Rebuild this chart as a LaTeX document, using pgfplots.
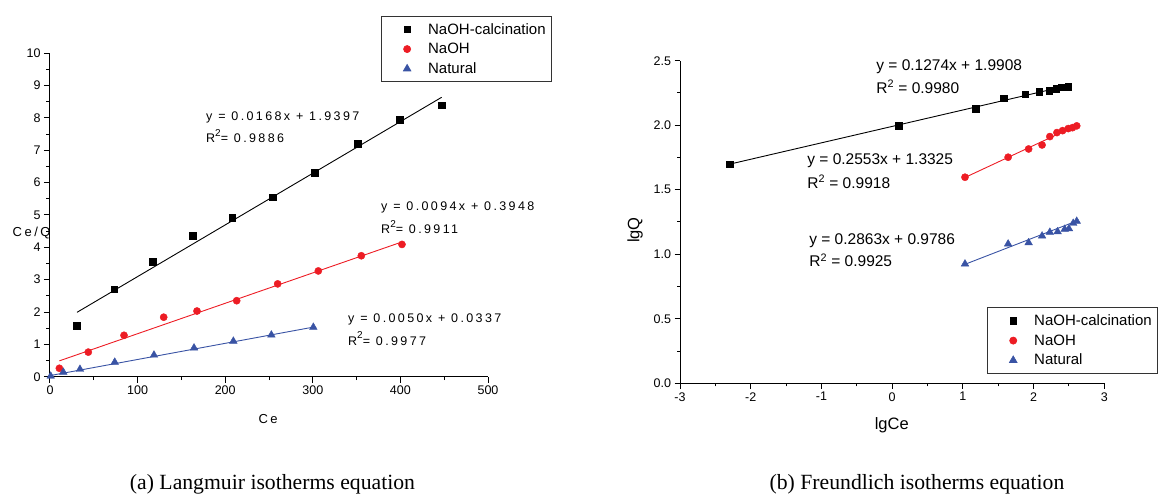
\documentclass[border=0pt]{standalone}
\usepackage{fontspec}
\setmainfont{Liberation Serif}
\setsansfont{Liberation Sans}
\newfontfamily\arial{Liberation Sans}
\newfontfamily\arialsp[LetterSpace=19]{Liberation Sans}
\usepackage{pgfplots}
\pgfplotsset{compat=1.18}
\definecolor{myred}{RGB}{237,28,36}
\definecolor{myblue}{RGB}{57,83,164}
\newcommand{\fs}[1]{\fontsize{#1}{#1}\selectfont}
\pgfplotsset{
  common/.style={
    scale only axis, clip=false,
    axis x line*=bottom, axis y line*=left,
    tick align=outside,
    axis line style={line width=1pt},
    tick style={line width=1pt, black},
    minor tick style={line width=1pt, black},
    major tick length=6pt, minor tick length=3.5pt,
    /pgf/number format/assume math mode=true,
    legend cell align=left,
    legend style={draw=black!80, line width=0.9pt, fill=white, inner xsep=6pt, inner ysep=7pt,
      font=\arial\fs{15}, row sep=7.5pt, column sep=7pt, nodes={inner sep=0pt}, anchor=north west},
    legend image code/.code={\path[draw=none,fill=none] (0pt,0pt) -- (34pt,0pt); \draw[##1, line width=0.6pt] plot coordinates {(20pt,0pt)};},
  },
  sq/.style={only marks, mark=square*, mark size=3.3pt, black},
  ci/.style={only marks, mark=*, mark size=3.6pt, myred},
  tr/.style={only marks, mark=triangle*, mark size=4.4pt, myblue},
}
\begin{document}
\begin{tikzpicture}
\useasboundingbox (0pt,0pt) rectangle (1162pt,493pt);
% ---------- (a) Langmuir ----------
\begin{axis}[common,
  at={(50pt,116.3pt)}, anchor=south west,
  width=438pt, height=323.4pt,
  xmin=0, xmax=500, ymin=0, ymax=10,
  xtick={0,100,...,500}, ytick={0,1,...,10},
  minor x tick num=1, minor y tick num=1,
  tick label style={font=\arial\fs{12.5}},
  xlabel={Ce}, ylabel={Ce/Q},
  xlabel style={font=\arialsp\fs{13}, at={(rel axis cs:0.498,-0.131)}, anchor=center},
  ylabel style={font=\arialsp\fs{13}, at={(rel axis cs:-0.042,0.444)}, anchor=center, rotate=-90},
  legend style={at={(rel axis cs:0.755,1.116)}},
]
\addplot[sq] coordinates {(30.8,1.58) (73.4,2.70) (117.2,3.56) (162.9,4.36) (208.1,4.92) (254.2,5.55) (302.1,6.31) (351.2,7.20) (399.5,7.94) (447.1,8.39)};
\addlegendentry{NaOH-calcination}
\addplot[ci] coordinates {(10.7,0.26) (43.7,0.76) (84.5,1.28) (129.8,1.84) (167.8,2.03) (213.1,2.35) (259.9,2.87) (306.3,3.27) (355.4,3.74) (401.8,4.09)};
\addlegendentry{NaOH}
\addplot[tr] coordinates {(0.8,0.02) (15.2,0.14) (34.2,0.23) (73.9,0.45) (118.7,0.67) (164.4,0.89) (209.3,1.10) (252.7,1.29) (300.6,1.53)};
\addlegendentry{Natural}
\addplot[black, line width=0.9pt, forget plot] coordinates {(30.8,1.99) (447.1,8.64)};
\addplot[myred, line width=0.9pt, forget plot] coordinates {(10.7,0.49) (400,4.15)};
\addplot[myblue, line width=0.9pt, forget plot] coordinates {(0,0.034) (300,1.53)};
\node[anchor=base west, font=\arialsp\fs{12.5}, inner sep=0pt] at (axis cs:178.1,7.92) {y = 0.0168x + 1.9397};
\node[anchor=base west, font=\arialsp\fs{12.5}, inner sep=0pt] at (axis cs:178.1,7.23) {R\raisebox{0.5em}{\fs{10}2}= 0.9886};
\node[anchor=base west, font=\arialsp\fs{12.5}, inner sep=0pt] at (axis cs:377.9,5.15) {y = 0.0094x + 0.3948};
\node[anchor=base west, font=\arialsp\fs{12.5}, inner sep=0pt] at (axis cs:377.9,4.43) {R\raisebox{0.5em}{\fs{10}2}= 0.9911};
\node[anchor=base west, font=\arialsp\fs{12.5}, inner sep=0pt] at (axis cs:340.2,1.67) {y = 0.0050x + 0.0337};
\node[anchor=base west, font=\arialsp\fs{12.5}, inner sep=0pt] at (axis cs:340.2,0.98) {R\raisebox{0.5em}{\fs{10}2}= 0.9977};
\end{axis}
% ---------- (b) Freundlich ----------
\begin{axis}[common,
  at={(680pt,109.7pt)}, anchor=south west,
  width=424.3pt, height=322.6pt,
  xmin=-3, xmax=3, ymin=0, ymax=2.5,
  xtick={-3,-2,...,3}, ytick={0,0.5,...,2.5},
  minor x tick num=1, minor y tick num=1,
  major tick length=5.5pt, minor tick length=3pt,
  tick label style={font=\arial\fs{12.5}},
  yticklabel style={/pgf/number format/.cd, fixed, fixed zerofill, precision=1},
  xlabel={lgCe}, ylabel={lgQ},
  xlabel style={font=\arial\fs{16.5}, at={(rel axis cs:0.499,-0.129)}, anchor=center},
  ylabel style={font=\arial\fs{16.5}, at={(rel axis cs:-0.106,0.475)}, anchor=center},
  legend style={at={(rel axis cs:0.723,0.2356)}},
]
\addplot[sq] coordinates {(-2.30,1.698) (0.095,1.995) (1.18,2.129) (1.58,2.209) (1.88,2.240) (2.08,2.258) (2.22,2.268) (2.32,2.281) (2.40,2.295) (2.49,2.297)};
\addlegendentry{NaOH-calcination}
\addplot[ci] coordinates {(1.03,1.597) (1.64,1.752) (1.93,1.816) (2.12,1.847) (2.23,1.912) (2.33,1.943) (2.41,1.958) (2.49,1.974) (2.55,1.981) (2.61,1.995)};
\addlegendentry{NaOH}
\addplot[tr] coordinates {(1.03,0.925) (1.64,1.080) (1.93,1.090) (2.12,1.142) (2.23,1.171) (2.34,1.175) (2.44,1.194) (2.50,1.198) (2.56,1.240) (2.61,1.256)};
\addlegendentry{Natural}
\addplot[black, line width=0.9pt, forget plot] coordinates {(-2.30,1.698) (2.50,2.309)};
\addplot[myred, line width=0.9pt, forget plot] coordinates {(1.03,1.595) (2.61,1.999)};
\addplot[myblue, line width=0.9pt, forget plot] coordinates {(1.02,0.92) (2.62,1.26)};
\node[anchor=base west, font=\arial\fs{15.5}, inner sep=0pt] at (axis cs:-0.226,2.423) {y = 0.1274x + 1.9908};
\node[anchor=base west, font=\arial\fs{15.5}, inner sep=0pt] at (axis cs:-0.226,2.248) {R\textsuperscript{2} = 0.9980};
\node[anchor=base west, font=\arial\fs{15.5}, inner sep=0pt] at (axis cs:-1.202,1.692) {y = 0.2553x + 1.3325};
\node[anchor=base west, font=\arial\fs{15.5}, inner sep=0pt] at (axis cs:-1.202,1.512) {R\textsuperscript{2} = 0.9918};
\node[anchor=base west, font=\arial\fs{15.5}, inner sep=0pt] at (axis cs:-1.174,1.072) {y = 0.2863x + 0.9786};
\node[anchor=base west, font=\arial\fs{15.5}, inner sep=0pt] at (axis cs:-1.174,0.904) {R\textsuperscript{2} = 0.9925};
\end{axis}
% ---------- captions ----------
\node[anchor=base, font=\fs{21.7}, inner sep=0pt] at (272.5pt,4pt) {(a) Langmuir isotherms equation};
\node[anchor=base, font=\fs{21.7}, inner sep=0pt] at (917pt,4pt) {(b) Freundlich isotherms equation};
\end{tikzpicture}
\end{document}
